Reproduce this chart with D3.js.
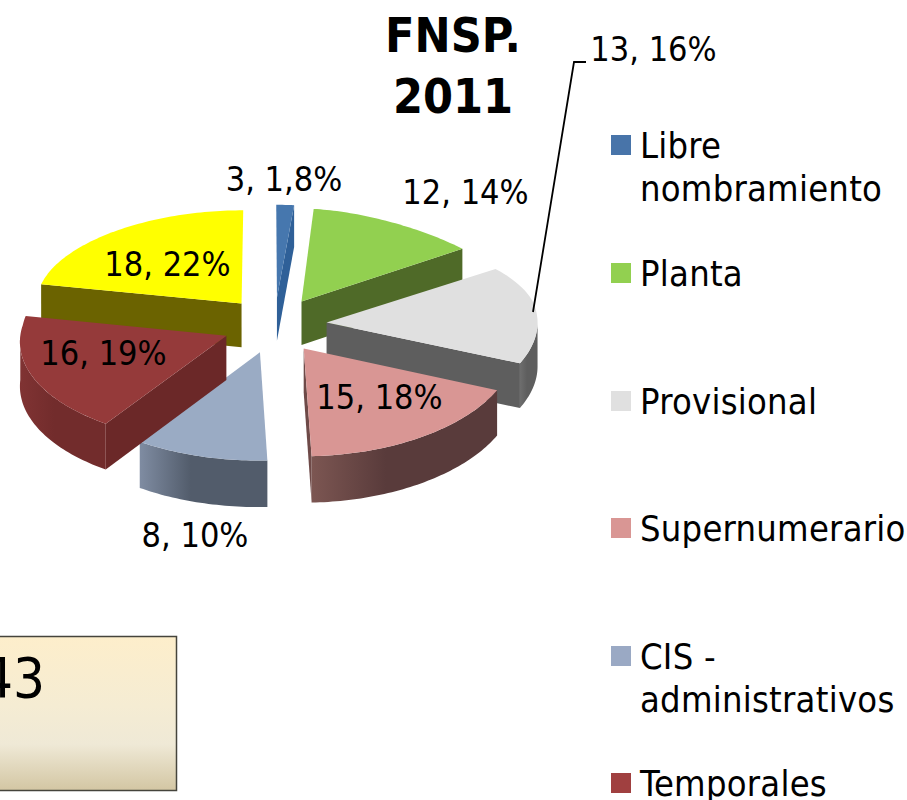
<!DOCTYPE html>
<html><head><meta charset="utf-8">
<script src="https://cdn.jsdelivr.net/npm/d3@7"></script>
<style>html,body{margin:0;padding:0;background:#fff;overflow:hidden}svg{display:block}text{font-family:"DejaVu Sans Condensed","DejaVu Sans";fill:#000}</style>
</head><body><svg id="c" width="907" height="800"></svg>
<script>
const categories=["Libre nombramiento","Planta","Provisional","Supernumerario","CIS - administrativos","Temporales","Ocasionales"];
const counts=[3,12,13,15,8,16,18];
const percents=[1.8,14,16,18,10,19,22];
const pctLabels=["1,8%","14%","16%","18%","10%","19%","22%"];
const topColors=["#4677ae","#92d050","#e0e0e0","#d99694","#9aabc4","#953a3a","#ffff00"];
const legendColors=["#4874a9","#92d050","#e0e0e0","#d99694","#9aa9c4","#a04040"];
const faceColors=["#2f6098","#4f6a28","#5e5e5e","#6e4a48","#5a6474","#6b2828","#6b6300"];
const wallL=["#2f6098","#4f6a28","#6e6e6e","#7c5652","#7f8ca2","#803333","#6b6300"];
const wallR=["#2f6098","#4f6a28","#5e5e5e","#593b3b","#525c6b","#722c2c","#6b6300"];
const legendLines=[["Libre","nombramiento"],["Planta"],["Provisional"],["Supernumerario"],["CIS -","administrativos"],["Temporales"]];
const legendY=[145,273,401,528,656,783];
const titleLines=["FNSP.","2011"];

const svg=d3.select("#c");
const defs=svg.append("defs");
const TAU=2*Math.PI;
const pie=d3.pie().sort(null).value(d=>d.p).startAngle(0).endAngle(TAU);
const arcs=pie(categories.map((c,i)=>({c,p:percents[i],i})));

const EXPLODE_X=0.25, EXPLODE_Y=0.28, KY=0.05;
const sx=d3.scaleLinear().domain([-1,0,1]).range([69,274,485]);
const sy=d3.scaleLinear().domain([0,1]).range([325,225]);
function project(X,Y,z){
  const b=Math.max(0,Y-0.2);
  let g=1-(X>=0?0.21:0.05)*b*b;
  if(X<0&&Y<0)g=1-0.05*Y;
  const yy=Y/(1+KY*Y);
  const T=44-2*Y;
  return [sx(X*g),sy(yy)+(z?T:0)];
}
function world(a,t,r){
  const m=(a.startAngle+a.endAngle)/2;
  return [EXPLODE_X*Math.sin(m)+r*Math.sin(t),EXPLODE_Y*Math.cos(m)+r*Math.cos(t)];
}
const line=d3.line().curve(d3.curveLinear);
const pt=(a,t,r,z)=>{const w=world(a,t,r);return project(w[0],w[1],z);};
function samples(t0,t1){const n=Math.max(2,Math.ceil((t1-t0)/0.02));return d3.range(n+1).map(k=>t0+(t1-t0)*k/n);}

// painter's order, back to front
const order=[0,6,1,2,3,4,5];
order.forEach(i=>{
  const a=arcs[i];
  const g=svg.append("g");
  const grad=defs.append("linearGradient").attr("id","w"+i).attr("x1",0).attr("x2",1).attr("y1",0).attr("y2",0);
  grad.append("stop").attr("offset",0).attr("stop-color",wallL[i]);
  grad.append("stop").attr("offset",0.4).attr("stop-color",wallR[i]);
  grad.append("stop").attr("offset",1).attr("stop-color",wallR[i]);
  [[a.startAngle,Math.sin(a.startAngle)<-1e-6],[a.endAngle,Math.sin(a.endAngle)>1e-6]].forEach(([t,vis])=>{
    if(!vis)return;
    g.append("path").attr("fill",faceColors[i])
      .attr("d",line([pt(a,t,0,0),pt(a,t,1,0),pt(a,t,1,1),pt(a,t,0,1)])+"Z");
  });
  const t0=Math.max(a.startAngle,Math.PI/2),t1=Math.min(a.endAngle,3*Math.PI/2);
  if(t1>t0){
    const ss=samples(t0,t1);
    const p=ss.map(t=>pt(a,t,1,0)).concat(ss.slice().reverse().map(t=>pt(a,t,1,1)));
    g.append("path").attr("fill","url(#w"+i+")").attr("d",line(p)+"Z");
  }
  const top=[pt(a,a.startAngle,0,0)].concat(samples(a.startAngle,a.endAngle).map(t=>pt(a,t,1,0)));
  g.append("path").attr("fill",topColors[i]).attr("d",line(top)+"Z");
});

// data labels
const labelPos=[[284,179],[465.5,192],[653.5,49],[379.5,397],[195,535],[103.5,353],[167.5,264]];
arcs.forEach((a,i)=>{
  svg.append("text").attr("x",labelPos[i][0]).attr("y",labelPos[i][1]).attr("dy","0.35em")
    .attr("text-anchor","middle").attr("font-size",34)
    .text(counts[i]+", "+pctLabels[i]);
});
// leader line
svg.append("path").attr("d",line([[533,312],[574,62],[586,62]])).attr("fill","none").attr("stroke","#000").attr("stroke-width",1.8);

// title
titleLines.forEach((t,i)=>svg.append("text").attr("x",453).attr("y",52+i*61).attr("text-anchor","middle")
  .attr("font-size",48).attr("font-weight","bold").text(t));

// legend
legendLines.forEach((ls,i)=>{
  svg.append("rect").attr("x",611).attr("y",legendY[i]-10).attr("width",20).attr("height",20).attr("fill",legendColors[i]);
  ls.forEach((l,k)=>svg.append("text").attr("x",640).attr("y",legendY[i]+k*43).attr("dy","0.35em").attr("font-size",36).attr("letter-spacing",0.25).text(l));
});

// box
const bg=defs.append("linearGradient").attr("id","box").attr("x1",0).attr("x2",0).attr("y1",0).attr("y2",1);
[[0,"#fdeecb"],[0.45,"#f5ecd3"],[0.7,"#efe9d6"],[1,"#d3c6a3"]].forEach(([o,c])=>bg.append("stop").attr("offset",o).attr("stop-color",c));
svg.append("rect").attr("x",-5).attr("y",636.5).attr("width",181.5).attr("height",154).attr("fill","url(#box)").attr("stroke","#45443c").attr("stroke-width",1.5);
svg.append("text").attr("x",45).attr("y",697).attr("text-anchor","end").attr("font-size",56).text("43");
</script></body></html>
